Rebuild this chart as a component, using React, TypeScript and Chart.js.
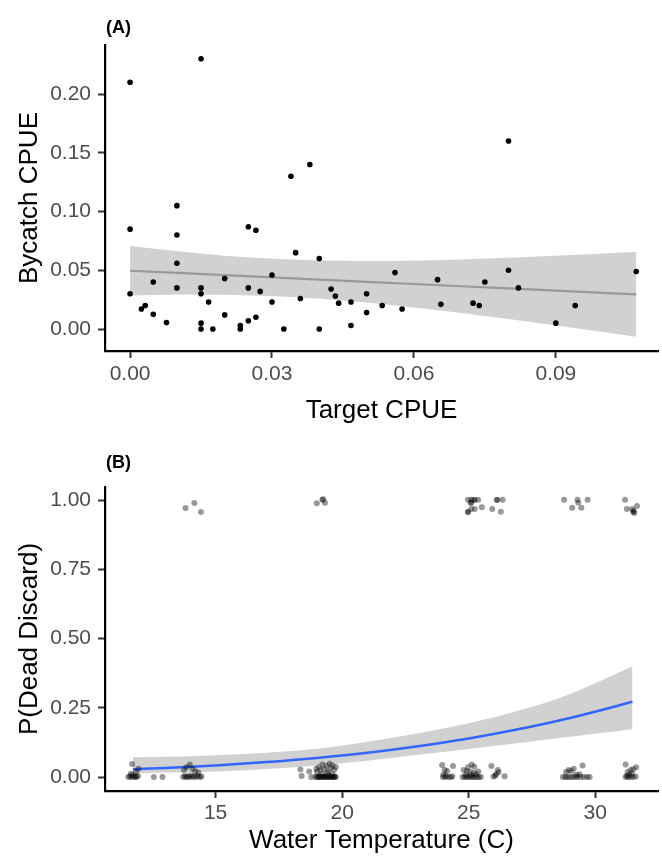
import React, { useEffect, useRef } from "react";
import { Chart, registerables } from "chart.js";
Chart.register(...registerables);

// ---------- Panel A: Bycatch vs Target CPUE ----------
const targetCPUE = [
  0, 0.015, 0, 0, 0.0024, 0.0032, 0.0049, 0.0049, 0.0077, 0.0099,
  0.0099, 0.0099, 0.0099, 0.015, 0.015, 0.015, 0.015, 0.0166, 0.0175, 0.02,
  0.02, 0.0233, 0.0233, 0.025, 0.0266, 0.025, 0.025, 0.0266, 0.0275, 0.03,
  0.03, 0.0325, 0.034, 0.038, 0.035, 0.036, 0.04, 0.04, 0.0425, 0.0434,
  0.0441, 0.0467, 0.0467, 0.05, 0.05, 0.0533, 0.056, 0.0575, 0.065, 0.0657,
  0.0725, 0.0738, 0.075, 0.08, 0.08, 0.0821, 0.09, 0.0941, 0.107,
];
const bycatchCPUE = [
  0.21, 0.23, 0.085, 0.03, 0.017, 0.02, 0.04, 0.0125, 0.0055, 0.105,
  0.08, 0.056, 0.035, 0.035, 0.03, 0.005, 0.0, 0.023, 0.0, 0.043,
  0.012, 0.003, 0.0, 0.087, 0.084, 0.035, 0.007, 0.01, 0.032, 0.046,
  0.023, 0.0, 0.13, 0.14, 0.065, 0.026, 0.06, 0.0, 0.034, 0.028,
  0.022, 0.023, 0.003, 0.03, 0.014, 0.02, 0.048, 0.017, 0.042, 0.021,
  0.022, 0.02, 0.04, 0.16, 0.05, 0.035, 0.005, 0.02, 0.049,
];
const fitA_x = [0, 0.01, 0.02, 0.03, 0.04, 0.05, 0.06, 0.07, 0.08, 0.09, 0.1, 0.107];
const fitA_y = [0.0496, 0.0477, 0.0458, 0.044, 0.0421, 0.0402, 0.0383, 0.0364, 0.0346, 0.0327, 0.0308, 0.0295];
const fitA_lo = [0.0286, 0.0293, 0.0292, 0.0282, 0.0259, 0.0226, 0.0184, 0.0136, 0.0085, 0.0031, -0.0026, -0.0065];
const fitA_hi = [0.0706, 0.0662, 0.0624, 0.0598, 0.0583, 0.0578, 0.0582, 0.0592, 0.0607, 0.0623, 0.0642, 0.0655];
const ticksA_x = [0, 0.03, 0.06, 0.09];
const ticksA_y = [0, 0.05, 0.1, 0.15, 0.2];

// ---------- Panel B: P(Dead Discard) vs Water Temperature ----------
// jittered observations (temperature, outcome 0/1 with jitter)
const waterTemp = [
  // dead discards (~1)
  13.81, 14.16, 14.42, 19.0, 19.22, 19.25, 19.32,
  24.97, 25.1, 25.2, 25.24, 25.37, 25.08, 25.1, 24.97, 24.98, 25.1, 25.24, 25.52, 25.93, 26.11, 26.13, 26.34, 26.27,
  28.77, 29.3, 29.7, 29.33, 29.09, 29.45,
  31.18, 31.65, 31.25, 31.46, 31.5, 31.52, 31.54,
  // released alive (~0)
  11.55, 11.62, 11.68, 11.72, 11.78, 11.83, 11.88, 11.93, 11.7, 11.95, 11.85, 11.65, 12.56, 12.9,
  13.72, 13.78, 13.84, 13.9, 13.96, 14.02, 14.08, 14.15, 14.22, 14.3, 14.38, 14.44, 13.85, 13.98, 14.1, 14.2, 14.32, 13.75,
  18.35, 18.4, 18.7, 18.78, 18.95, 19.0, 19.05, 19.1, 19.15, 19.2, 19.25, 19.3, 19.35, 19.4, 19.45, 19.5, 19.55, 19.6, 19.65, 19.7, 19.75,
  19.1, 19.3, 19.5, 19.7, 19.0, 19.08, 19.15, 19.22, 19.3, 19.38, 19.45, 19.5, 19.55, 19.62, 19.68, 19.75, 19.2, 19.4, 19.6, 18.98,
  23.95, 24.38, 24.05, 24.15, 24.0, 23.98, 24.08, 24.2, 24.3, 24.35, 24.1,
  24.8, 24.98, 25.12, 25.22, 24.92, 25.05, 24.76, 24.85, 24.93, 25.0, 25.08, 25.16, 25.24, 25.32, 25.4, 25.48, 25.1, 25.3, 24.88, 25.2, 25.38,
  25.9, 26.15, 26.18, 26.08, 25.98, 26.42, 26.05,
  28.72, 28.82, 28.9, 29.0, 29.1, 29.2, 29.3, 29.42, 29.55, 29.68, 29.78, 28.85, 28.95, 29.05, 29.15, 29.38, 29.5, 29.25,
  31.2, 31.62, 31.4, 31.28, 31.5, 31.2, 31.3, 31.4, 31.5, 31.6, 31.35, 31.45, 31.25,
];
const deadDiscard = [
  0.971, 0.989, 0.957, 0.988, 1.001, 1.003, 0.99,
  1.001, 1.001, 1.001, 1.0, 1.001, 0.99, 0.99, 0.956, 0.958, 0.968, 0.968, 0.974, 0.968, 1.001, 1.0, 1.001, 0.958,
  1.001, 1.001, 1.001, 0.99, 0.972, 0.972,
  1.001, 0.978, 0.968, 0.968, 0.958, 0.96, 0.953,
  0.0, 0.003, 0.0, 0.006, 0.0, 0.002, 0.0, 0.004, 0.047, 0.03, 0.018, 0.012, 0.0, 0.0,
  0.0, 0.004, 0.0, 0.002, 0.0, 0.006, 0.0, 0.003, 0.0, 0.005, 0.0, 0.002, 0.035, 0.045, 0.03, 0.02, 0.015, 0.025,
  0.027, 0.004, 0.02, 0.0, 0.0, 0.0, 0.0, 0.0, 0.0, 0.0, 0.0, 0.0, 0.0, 0.0, 0.0, 0.0, 0.0, 0.0, 0.0, 0.0, 0.0,
  0.004, 0.003, 0.005, 0.002, 0.018, 0.035, 0.025, 0.045, 0.03, 0.04, 0.02, 0.048, 0.033, 0.042, 0.025, 0.036, 0.012, 0.015, 0.01, 0.03,
  0.043, 0.04, 0.025, 0.022, 0.008, 0.0, 0.0, 0.0, 0.0, 0.002, 0.005,
  0.025, 0.035, 0.045, 0.037, 0.022, 0.018, 0.0, 0.0, 0.0, 0.0, 0.0, 0.0, 0.0, 0.0, 0.0, 0.0, 0.008, 0.01, 0.006, 0.015, 0.02,
  0.04, 0.025, 0.017, 0.01, 0.002, 0.003, 0.005,
  0.0, 0.0, 0.0, 0.0, 0.0, 0.0, 0.0, 0.0, 0.0, 0.0, 0.0, 0.018, 0.025, 0.022, 0.03, 0.01, 0.042, 0.008,
  0.045, 0.035, 0.025, 0.018, 0.028, 0.0, 0.0, 0.0, 0.0, 0.002, 0.008, 0.012, 0.005,
];
const fitB_x = [11.73, 13, 15, 17, 19, 21, 23, 25, 27, 29, 31, 31.47];
const fitB_y = [0.028, 0.0328, 0.042, 0.054, 0.069, 0.0875, 0.111, 0.139, 0.173, 0.213, 0.26, 0.272];
const fitB_lo = [0.013, 0.016, 0.02, 0.029, 0.042, 0.059, 0.08, 0.101, 0.123, 0.145, 0.167, 0.172];
const fitB_hi = [0.071, 0.073, 0.079, 0.088, 0.102, 0.127, 0.158, 0.194, 0.24, 0.3, 0.38, 0.4];
const ticksB_x = [15, 20, 25, 30];
const ticksB_y = [0, 0.25, 0.5, 0.75, 1];

const FONT = "'Liberation Sans', Arial, Helvetica, sans-serif";

const xy = (xs: number[], ys: number[]) => xs.map((x, i) => ({ x, y: ys[i] }));

function panelLabel(text: string, y: number) {
  return {
    id: "panelLabel",
    afterDraw(chart: any) {
      const ctx = chart.ctx;
      ctx.save();
      ctx.font = `bold 18px ${FONT}`;
      ctx.fillStyle = "#000";
      ctx.textBaseline = "middle";
      ctx.textAlign = "left";
      ctx.fillText(text, chart.chartArea.left + 1, y);
      ctx.restore();
    },
  };
}

function axis(opts: {
  min: number; max: number; ticks: number[]; fmt: (v: number) => string;
  title: string; isX: boolean; size: number; titlePad: any; tickPad: number;
}) {
  return {
    type: "linear",
    position: opts.isX ? "bottom" : "left",
    min: opts.min,
    max: opts.max,
    afterBuildTicks: (scale: any) => {
      scale.ticks = opts.ticks.map((v) => ({ value: v }));
    },
    afterFit: (scale: any) => {
      if (opts.isX) scale.height = opts.size;
      else scale.width = opts.size;
    },
    ticks: {
      autoSkip: false,
      maxRotation: 0,
      padding: opts.tickPad,
      color: "#4d4d4d",
      font: { family: FONT, size: 21 },
      callback: (v: any) => opts.fmt(Number(v)),
    },
    grid: {
      display: true,
      drawOnChartArea: false,
      drawTicks: true,
      tickLength: 7,
      tickWidth: 2,
      tickColor: "#333",
    },
    border: { display: true, color: "#000", width: 2.2 },
    title: {
      display: true,
      text: opts.title,
      color: "#000",
      font: { family: FONT, size: 26 },
      padding: opts.titlePad,
    },
  };
}

function PanelA() {
  const ref = useRef<HTMLCanvasElement>(null);
  useEffect(() => {
    const chart = new Chart(ref.current as HTMLCanvasElement, {
      type: "scatter",
      data: {
        datasets: [
          {
            data: xy(targetCPUE, bycatchCPUE),
            backgroundColor: "#000",
            borderWidth: 0,
            pointRadius: 2.8,
            order: 0,
          },
          {
            data: xy(fitA_x, fitA_y),
            showLine: true,
            borderColor: "#999999",
            borderWidth: 2.2,
            pointRadius: 0,
            order: 1,
          },
          {
            data: xy(fitA_x, fitA_lo),
            showLine: true,
            borderWidth: 0,
            borderColor: "rgba(0,0,0,0)",
            pointRadius: 0,
            order: 2,
          },
          {
            data: xy(fitA_x, fitA_hi),
            showLine: true,
            borderWidth: 0,
            borderColor: "rgba(0,0,0,0)",
            pointRadius: 0,
            fill: "-1",
            backgroundColor: "rgba(153,153,153,0.45)",
            order: 3,
          },
        ],
      } as any,
      options: {
        animation: false,
        responsive: false,
        events: [],
        layout: { padding: { top: 45, right: 2, left: 0, bottom: 0 } },
        plugins: { legend: { display: false }, tooltip: { enabled: false } },
        scales: {
          x: axis({
            min: -0.0053, max: 0.1116, ticks: ticksA_x, fmt: (v) => v.toFixed(2),
            title: "Target CPUE", isX: true, size: 79, titlePad: { top: 0, bottom: 4 }, tickPad: 4,
          }),
          y: axis({
            min: -0.0187, max: 0.2417, ticks: ticksA_y, fmt: (v) => v.toFixed(2),
            title: "Bycatch CPUE", isX: false, size: 105, titlePad: { top: 14, bottom: 0 }, tickPad: 7,
          }),
        } as any,
      },
      plugins: [panelLabel("(A)", 28)],
    });
    return () => chart.destroy();
  }, []);
  return <canvas ref={ref} width={662} height={430} style={{ display: "block" }} />;
}

function PanelB() {
  const ref = useRef<HTMLCanvasElement>(null);
  useEffect(() => {
    const chart = new Chart(ref.current as HTMLCanvasElement, {
      type: "scatter",
      data: {
        datasets: [
          {
            data: xy(waterTemp, deadDiscard),
            backgroundColor: "rgba(0,0,0,0.4)",
            borderWidth: 0,
            pointRadius: 3,
            order: 0,
          },
          {
            data: xy(fitB_x, fitB_y),
            showLine: true,
            borderColor: "#3366FF",
            borderWidth: 2.5,
            pointRadius: 0,
            cubicInterpolationMode: "monotone",
            order: 1,
          },
          {
            data: xy(fitB_x, fitB_lo),
            showLine: true,
            borderWidth: 0,
            borderColor: "rgba(0,0,0,0)",
            pointRadius: 0,
            cubicInterpolationMode: "monotone",
            order: 2,
          },
          {
            data: xy(fitB_x, fitB_hi),
            showLine: true,
            borderWidth: 0,
            borderColor: "rgba(0,0,0,0)",
            pointRadius: 0,
            cubicInterpolationMode: "monotone",
            fill: "-1",
            backgroundColor: "rgba(153,153,153,0.45)",
            order: 3,
          },
        ],
      } as any,
      options: {
        animation: false,
        responsive: false,
        events: [],
        layout: { padding: { top: 57, right: 2, left: 0, bottom: 0 } },
        plugins: { legend: { display: false }, tooltip: { enabled: false } },
        scales: {
          x: axis({
            min: 10.63, max: 32.48, ticks: ticksB_x, fmt: (v) => String(v),
            title: "Water Temperature (C)", isX: true, size: 65, titlePad: { top: 0, bottom: 0 }, tickPad: 3,
          }),
          y: axis({
            min: -0.0505, max: 1.047, ticks: ticksB_y, fmt: (v) => v.toFixed(2),
            title: "P(Dead Discard)", isX: false, size: 105, titlePad: { top: 14, bottom: 0 }, tickPad: 7,
          }),
        } as any,
      },
      plugins: [panelLabel("(B)", 33)],
    });
    return () => chart.destroy();
  }, []);
  return <canvas ref={ref} width={662} height={426} style={{ display: "block" }} />;
}

export default function App() {
  return (
    <div style={{ position: "absolute", left: 0, top: 0, width: 662, height: 856, background: "#fff" }}>
      <PanelA />
      <PanelB />
    </div>
  );
}
